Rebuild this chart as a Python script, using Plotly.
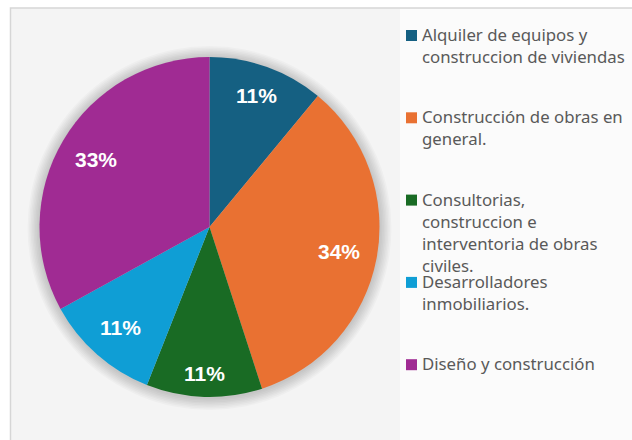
import math
import plotly.graph_objects as go

categories = [
    "Alquiler de equipos y construccion de viviendas",
    "Construcción de obras en general.",
    "Consultorias, construccion e interventoria de obras civiles.",
    "Desarrolladores inmobiliarios.",
    "Diseño y construcción",
]
legend_lines = [
    "Alquiler de equipos y<br>construccion de viviendas",
    "Construcción de obras en<br>general.",
    "Consultorias,<br>construccion e<br>interventoria de obras<br>civiles.",
    "Desarrolladores<br>inmobiliarios.",
    "Diseño y construcción",
]
values = [11, 34, 11, 11, 33]
colors = ["#156082", "#E97132", "#196B24", "#0F9ED5", "#A02B93"]

W, H = 632, 440
cx, cy, R = 209.5, 227.0, 170.0  # pixel geometry (layout)

fig = go.Figure()
fig.add_trace(go.Pie(
    labels=categories,
    values=values,
    sort=False,
    direction="clockwise",
    rotation=0,
    marker=dict(colors=colors, line=dict(width=0)),
    textinfo="none",
    showlegend=False,
    domain=dict(x=[(cx - R) / W, (cx + R) / W], y=[(H - cy - R) / H, (H - cy + R) / H]),
    hoverinfo="label+percent",
))

shapes = [
    dict(type="rect", xref="paper", yref="paper", x0=10.5 / W, x1=1.01, y0=-0.01, y1=(H - 8) / H,
         fillcolor="#f4f4f4", line=dict(color="#d6d6d6", width=1.5), layer="below"),
    dict(type="rect", xref="paper", yref="paper", x0=400 / W, x1=1.01, y0=-0.01, y1=(H - 9) / H,
         fillcolor="#fbfbfb", line=dict(width=0), layer="below"),
]
# soft shadow around the pie
for k in range(1, 9):
    r = R + k * 1.5
    shapes.append(dict(type="circle", xref="paper", yref="paper",
                       x0=(cx - r) / W, x1=(cx + r) / W,
                       y0=(H - cy - r - 1) / H, y1=(H - cy + r - 1) / H,
                       fillcolor="rgba(0,0,0,0.025)", line=dict(width=0), layer="below"))

annotations = []
# percentage labels placed at each slice's mid angle (best-fit style, inside)
total = sum(values)
cum = 0.0
hw, hh = 22.0, 7.5
for v in values:
    mid = (cum + v / 2) / total * 2 * math.pi
    cum += v
    proj = hw * abs(math.sin(mid)) + hh * abs(math.cos(mid))
    r = R * 0.91 - proj
    px = cx + r * math.sin(mid)
    py = cy - r * math.cos(mid)
    annotations.append(dict(xref="paper", yref="paper", x=px / W, y=1 - py / H,
                            xanchor="center", yanchor="middle", showarrow=False,
                            text=f"{round(v / total * 100)}%",
                            font=dict(family="Liberation Sans", size=21, color="white", weight="bold")))

for i, (txt, col) in enumerate(zip(legend_lines, colors)):
    top = 30 + i * 82.3
    shapes.append(dict(type="rect", xref="paper", yref="paper",
                       x0=406 / W, x1=417 / W, y0=(H - top - 11) / H, y1=(H - top) / H,
                       fillcolor=col, line=dict(width=0)))
    annotations.append(dict(xref="paper", yref="paper", x=420 / W, y=(H - top + 9) / H,
                            xanchor="left", yanchor="top", align="left", showarrow=False,
                            text=txt, font=dict(family="Noto Sans", size=16.8, color="#595959")))

fig.update_layout(
    width=W, height=H,
    margin=dict(l=0, r=0, t=0, b=0),
    paper_bgcolor="white",
    plot_bgcolor="white",
    shapes=shapes,
    annotations=annotations,
)
fig.write_html("out.html", config={"displayModeBar": False},
               post_script="document.body.style.margin='0';")
